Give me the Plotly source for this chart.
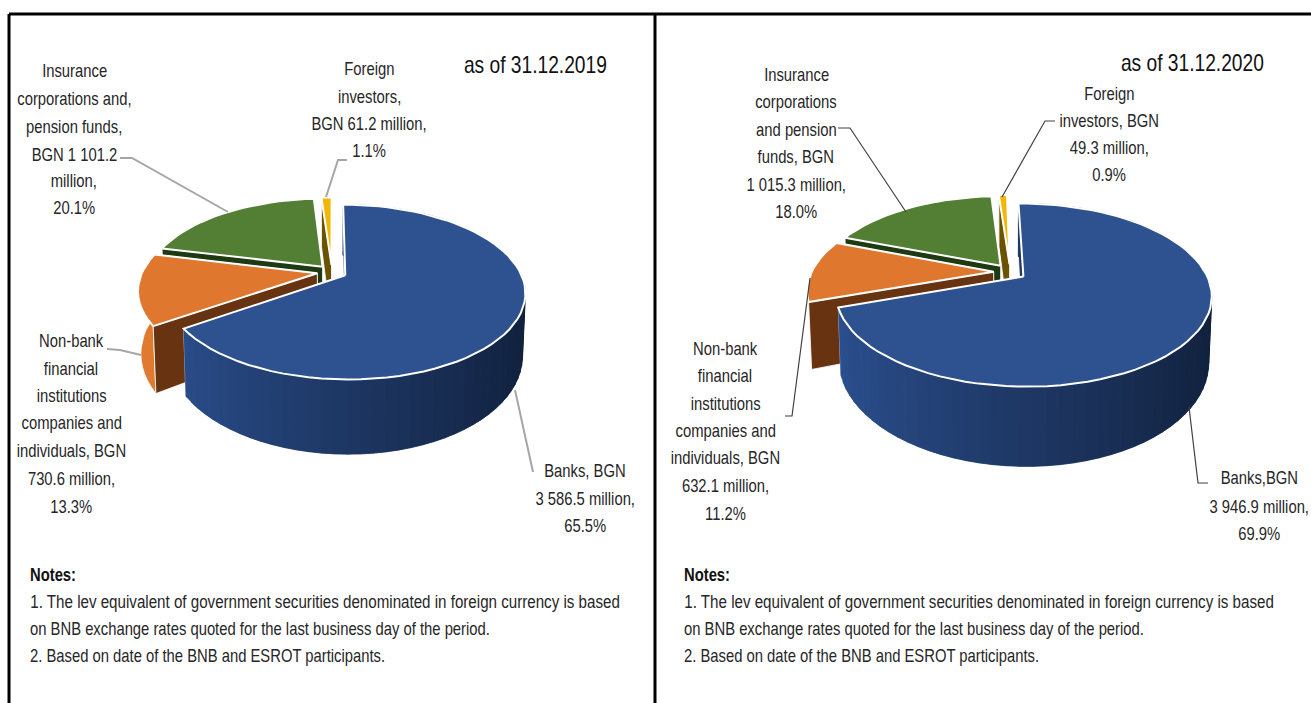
import math
import plotly.graph_objects as go

# ---- data ----
categories = ["Banks", "Non-bank financial institutions companies and individuals",
              "Insurance corporations and pension funds", "Foreign investors"]
values_2019 = [3586.5, 730.6, 1101.2, 61.2]
values_2020 = [3946.9, 632.1, 1015.3, 49.3]

title_2019 = "as of 31.12.2019"
title_2020 = "as of 31.12.2020"

labels_2019 = [
    ["Banks, BGN", "3 586.5 million,", "65.5%"],
    ["Non-bank", "financial", "institutions", "companies and", "individuals, BGN", "730.6 million,", "13.3%"],
    ["Insurance", "corporations and,", "pension funds,", "BGN 1 101.2", "million,", "20.1%"],
    ["Foreign", "investors,", "BGN 61.2 million,", "1.1%"],
]
labels_2020 = [
    ["Banks,BGN", "3 946.9 million,", "69.9%"],
    ["Non-bank", "financial", "institutions", "companies and", "individuals, BGN", "632.1 million,", "11.2%"],
    ["Insurance", "corporations", "and pension", "funds, BGN", "1 015.3 million,", "18.0%"],
    ["Foreign", "investors, BGN", "49.3 million,", "0.9%"],
]
notes_lines = [
    "1. The lev equivalent of government securities denominated in foreign currency is based",
    "on BNB exchange rates quoted for the last business day of the period.",
    "2. Based on date of the BNB and ESROT participants.",
]

# ---- styles ----
FONT = "Liberation Sans, Arial, sans-serif"
TOP = ["#2E5290", "#E0772F", "#527F34", "#F2B705"]
CUT = ["#1F3864", "#673311", "#1E3A12", "#6B5200"]
OUTER = ["#2C5090", "#DF7A30", "#3F6328", "#B98C00"]
BLUE_DARK = (0x12, 0x22, 0x3E)
BLUE_LIGHT = (0x2C, 0x50, 0x90)

fig = go.Figure()


def poly(pts, fill, line="white", width=1.0):
    fig.add_trace(go.Scatter(
        x=[p[0] for p in pts] + [pts[0][0]], y=[p[1] for p in pts] + [pts[0][1]],
        mode="lines", fill="toself", fillcolor=fill,
        line=dict(color=line, width=width), hoverinfo="skip", showlegend=False))


def draw_pie(values, cx, cy, R, a, k, depth, expl, rot):
    total = sum(values)

    def project(ang, rad, ox, ot, z):
        u = rad * math.sin(ang + rot) + ox
        t = -rad * math.cos(ang + rot) + ot
        w = 1 - k * t
        return (cx + R * u / w * (1 - 0.015 * z), cy + (a * t + depth * z) / w)

    start = 0.0
    wedges = []
    for i, v in enumerate(values):
        a0 = start
        a1 = start + v / total * 2 * math.pi
        start = a1
        wedges.append((i, a0, a1))

    for i, a0, a1 in reversed(wedges):
        mid = (a0 + a1) / 2
        ox, ot = expl * math.sin(mid), -expl * math.cos(mid)
        n = max(3, int((a1 - a0) / 0.06))
        angs = [a0 + (a1 - a0) * j / n for j in range(n + 1)]

        def cut(ang):
            poly([project(0, 0, ox, ot, 0), project(ang, 1, ox, ot, 0),
                  project(ang, 1, ox, ot, 1), project(0, 0, ox, ot, 1)],
                 CUT[i], "white", 0.8)

        if i == 0:
            cut(a0)
            cut(a1)
            # shaded outer wall: dark at right, lighter at left; segments overlap
            for j in range(n - 1, -1, -1):
                xm = math.sin((angs[j] + angs[j + 1]) / 2)
                f = min(1, max(0, (xm + 0.95) / 1.9)) ** 0.9
                c = tuple(int(BLUE_LIGHT[m] + (BLUE_DARK[m] - BLUE_LIGHT[m]) * f) for m in range(3))
                col = "rgb(%d,%d,%d)" % c
                nxt = angs[max(j - 1, 0)]
                seg = [project(angs[j + 1], 1, ox, ot, 0), project(nxt, 1, ox, ot, 0),
                       project(nxt, 1, ox, ot, 1), project(angs[j + 1], 1, ox, ot, 1)]
                poly(seg, col, col, 0.5)
        else:
            pts = [project(x, 1, ox, ot, 0) for x in angs] + \
                  [project(x, 1, ox, ot, 1) for x in reversed(angs)]
            poly(pts, OUTER[i], "white", 0.8)
            cut(a1)
            cut(a0)

        # top surface
        pts = [project(0, 0, ox, ot, 0)] + [project(x, 1, ox, ot, 0) for x in angs]
        poly(pts, TOP[i], "white", 2)


def leader(pts, color, width):
    fig.add_trace(go.Scatter(x=[p[0] for p in pts], y=[p[1] for p in pts], mode="lines",
                             line=dict(color=color, width=width),
                             hoverinfo="skip", showlegend=False))


def text(x, y, s, size=18.5, anchor="center", color="#262626", bold=False):
    fig.add_annotation(x=x, y=y, text=("<b>%s</b>" % s) if bold else s, showarrow=False,
                       xref="x", yref="y", xanchor=anchor, yanchor="middle",
                       font=dict(family=FONT, size=size, color=color))


def block(lines, x, ys):
    for s, y in zip(lines, ys):
        text(x, y, s)


# pies
draw_pie(values_2019, 332, 272, 175, 83, 0.19, 60, 0.085, 0.0)
draw_pie(values_2020, 1010, 272, 182, 86, 0.20, 63, 0.09, math.radians(-1.0))

# leaders
GREY = "#A6A6A6"
leader([(120, 158), (132, 158), (228, 212)], GREY, 2)
leader([(347, 160), (338, 160), (326, 197)], GREY, 2)
leader([(107, 349), (120, 350), (141, 355)], GREY, 2)
leader([(515, 390), (533, 472)], GREY, 2)
DARK = "#404040"
leader([(838, 128), (850, 128), (906, 212)], DARK, 1.2)
leader([(1055, 121), (1045, 121), (1002, 197)], DARK, 1.2)
leader([(785, 416), (792, 416), (810, 278)], DARK, 1.2)
leader([(1189, 407), (1198, 483), (1208, 483)], DARK, 1.2)

# texts: left
text(535, 64, title_2019, size=24, color="#111111")
block(labels_2019[2], 74, [70, 98, 126, 154, 180, 207])
block(labels_2019[3], 369, [68, 96, 123, 150])
block(labels_2019[1], 71, [340, 368, 395, 422, 450, 478, 506])
block(labels_2019[0], 585, [470, 498, 525])

# texts: right
text(1192, 62, title_2020, size=24, color="#111111")
block(labels_2020[2], 796, [74, 101, 129, 156, 184, 211])
block(labels_2020[3], 1109, [93, 120, 147, 174])
block(labels_2020[1], 725, [348, 375, 403, 430, 457, 485, 513])
block(labels_2020[0], 1259, [477, 506, 533])

# notes
for x0 in (28, 682):
    text(x0, 574, "Notes:", anchor="left", bold=True, color="#111111")
    for s, y in zip(notes_lines, (601, 628, 655)):
        text(x0, y, s, anchor="left")

# frame
frame = [((9, 703), (9, 14)), ((9, 14), (1311, 14)), ((655, 14), (655, 703))]
shapes = [dict(type="line", xref="x", yref="y", x0=p[0], y0=p[1], x1=q[0], y1=q[1],
               line=dict(color="#000000", width=3)) for p, q in frame]

fig.update_layout(
    width=1311, height=703, margin=dict(l=0, r=0, t=0, b=0),
    paper_bgcolor="white", plot_bgcolor="white", showlegend=False, shapes=shapes,
    xaxis=dict(range=[0, 1311], visible=False, fixedrange=True),
    yaxis=dict(range=[703, 0], visible=False, fixedrange=True),
)

# The reference's type is a horizontally condensed sans: squeeze each real text element.
NARROW = r"""
document.body.style.margin='0';document.body.style.overflow='hidden';
var gd=document.getElementById('{plot_id}');
gd.querySelectorAll('.annotation').forEach(function(g){
  var ann=gd.layout.annotations[+g.getAttribute('data-index')];
  var t=g.querySelector('text'); var b=t.getBBox();
  var px=ann.xanchor==='left'?b.x:b.x+b.width/2;
  var sx=ann.text.indexOf('1. The lev')===0?0.819:0.8;
  t.setAttribute('transform','translate('+px+',0) scale('+sx+',1) translate('+(-px)+',0)');
});
"""
fig.write_html("out.html", config={"displayModeBar": False}, post_script=NARROW)
